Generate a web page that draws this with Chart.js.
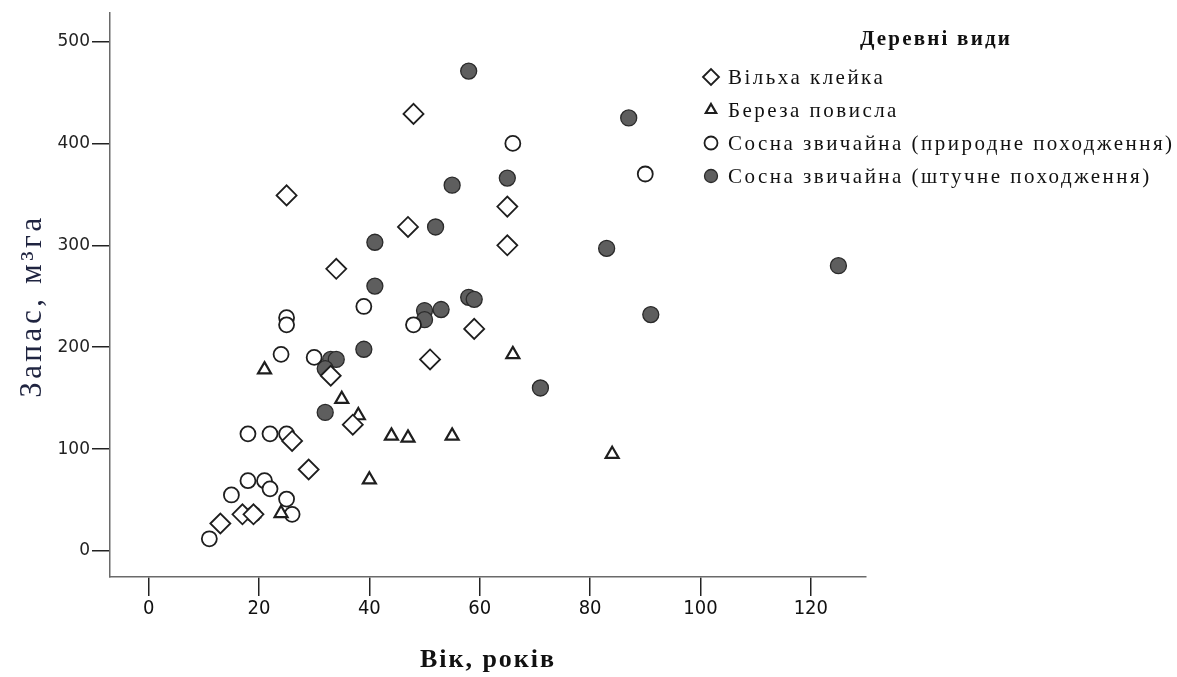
<!DOCTYPE html>
<html lang="uk">
<head>
<meta charset="utf-8">
<title>Запас за віком</title>
<script src="https://cdn.jsdelivr.net/npm/chart.js@4.4.1/dist/chart.umd.min.js"></script>
<style>
  html, body { margin: 0; padding: 0; background: #fff; }
  #chart { display: block; }
</style>
</head>
<body>
<canvas id="chart" width="1177" height="677"></canvas>
<script>
// --- DATA ---
const legendTitle = 'Деревні види';
const xAxisTitle = 'Вік, років';
const yAxisTitle = 'Запас, м³га';
const speciesNames = [
    'Вільха клейка',
    'Береза повисла',
    'Сосна звичайна (природне походження)',
    'Сосна звичайна (штучне походження)'
];

// Вільха клейка
const alderAge   = [48, 25, 34, 47, 65, 65, 59, 51, 33, 37, 26, 29, 17, 13, 19];
const alderStock = [429, 349, 277, 318, 338, 300, 218, 188, 172, 124, 108, 80, 36, 27, 36];

// Береза повисла
const birchAge   = [21, 35, 38, 44, 47, 55, 40, 66, 84, 19, 24];
const birchStock = [178, 149, 133, 113, 111, 113, 70, 193, 95, 37, 37];

// Сосна звичайна (природне походження)
const pineNatAge   = [66, 90, 25, 25, 39, 48, 24, 30, 18, 22, 25, 18, 21, 22, 15, 25, 26, 11, 19];
const pineNatStock = [400, 370, 229, 222, 240, 222, 193, 190, 115, 115, 115, 69, 69, 61, 55, 51, 36, 12, 36];

// Сосна звичайна (штучне походження)
const pineArtAge   = [58, 87, 55, 65, 41, 52, 83, 125, 41, 58, 59, 50, 50, 53, 91, 33, 34, 32, 39, 32, 71];
const pineArtStock = [471, 425, 359, 366, 303, 318, 297, 280, 260, 249, 247, 236, 227, 237, 232, 188, 188, 179, 198, 136, 160];

const xTickValues = [0, 20, 40, 60, 80, 100, 120];
const yTickValues = [0, 100, 200, 300, 400, 500];

function toPoints(xs, ys) {
    return xs.map(function (x, i) { return { x: x, y: ys[i] }; });
}

// letter spacing so that text spans roughly the given width (original uses wide spacing)
function spreadTo(ctx, text, width) {
    if (!('letterSpacing' in ctx)) return;
    ctx.letterSpacing = '0px';
    const s = (width - ctx.measureText(text).width) / (text.length - 1);
    ctx.letterSpacing = Math.max(0, s).toFixed(2) + 'px';
}

// --- LEGEND + AXIS TITLES ---
const speciesLegend = {
    id: 'speciesLegend',
    afterDraw: function (chart, args, opts) {
        const ctx = chart.ctx;
        const area = chart.chartArea;
        ctx.save();
        ctx.fillStyle = '#111';
        ctx.textBaseline = 'middle';

        // axis titles
        ctx.textAlign = 'center';
        ctx.font = 'bold 26px "Liberation Serif", serif';
        spreadTo(ctx, xAxisTitle, 134);
        ctx.fillText(xAxisTitle, (area.left + area.right) / 2, 660);

        ctx.save();
        ctx.translate(33, 306);
        ctx.rotate(-Math.PI / 2);
        ctx.fillStyle = '#1f2440';
        ctx.font = '31px "Liberation Serif", serif';
        spreadTo(ctx, yAxisTitle, 180);
        ctx.fillText(yAxisTitle, 0, 0);
        ctx.restore();

        // legend title
        ctx.font = 'bold 21px "Liberation Serif", serif';
        spreadTo(ctx, legendTitle, 150);
        ctx.fillText(legendTitle, opts.titleX, opts.titleY);

        // legend items
        ctx.font = '21px "Liberation Serif", serif';
        ctx.textAlign = 'left';
        spreadTo(ctx, speciesNames[2], opts.longestWidth);

        chart.data.datasets.forEach(function (ds, i) {
            const y = opts.top + i * opts.rowGap;
            ctx.save();
            ctx.fillStyle = ds.backgroundColor;
            ctx.strokeStyle = ds.borderColor;
            ctx.lineWidth = ds.borderWidth;
            Chart.helpers.drawPoint(ctx, {
                pointStyle: ds.pointStyle,
                radius: opts.markerRadius[i],
                rotation: 0,
                borderWidth: ds.borderWidth
            }, opts.markerX, y);
            ctx.restore();
            ctx.fillText(ds.label, opts.textX, y + 1);
        });
        ctx.restore();
    }
};

const tickFontY = { family: '"DejaVu Sans", sans-serif', size: 17 };
const tickFontX = { family: '"Liberation Sans Narrow", "DejaVu Sans Condensed", "Liberation Sans", sans-serif', size: 20 };

const ctxMain = document.getElementById('chart').getContext('2d');
window.stockChart = new Chart(ctxMain, {
    type: 'scatter',
    data: {
        datasets: [
            {
                label: speciesNames[0],
                data: toPoints(alderAge, alderStock),
                pointStyle: 'rectRot',
                pointRadius: 10,
                backgroundColor: '#ffffff',
                borderColor: '#1e1e1e',
                borderWidth: 1.8
            },
            {
                label: speciesNames[1],
                data: toPoints(birchAge, birchStock),
                pointStyle: 'triangle',
                pointRadius: 7.5,
                backgroundColor: '#ffffff',
                borderColor: '#1e1e1e',
                borderWidth: 2.2
            },
            {
                label: speciesNames[2],
                data: toPoints(pineNatAge, pineNatStock),
                pointStyle: 'circle',
                pointRadius: 7.5,
                backgroundColor: '#ffffff',
                borderColor: '#1e1e1e',
                borderWidth: 1.8
            },
            {
                label: speciesNames[3],
                data: toPoints(pineArtAge, pineArtStock),
                pointStyle: 'circle',
                pointRadius: 8,
                backgroundColor: '#5e5e5e',
                borderColor: '#2a2a2a',
                borderWidth: 1.3
            }
        ]
    },
    options: {
        responsive: false,
        animation: false,
        devicePixelRatio: 1,
        layout: { padding: { top: 13, right: 311, left: 0, bottom: 0 } },
        plugins: {
            legend: { display: false },
            tooltip: { enabled: false },
            speciesLegend: {
                titleX: 936,
                titleY: 40,
                markerX: 711,
                textX: 728,
                top: 77,
                rowGap: 33,
                longestWidth: 444,
                markerRadius: [8, 6, 6.5, 6.5]
            }
        },
        scales: {
            x: {
                type: 'linear',
                min: -7,
                max: 130,
                afterBuildTicks: function (scale) {
                    scale.ticks = xTickValues.map(function (v) { return { value: v }; });
                },
                afterFit: function (scale) { scale.height = 100; },
                grid: { drawOnChartArea: false, drawTicks: true, tickLength: 19, color: '#222', lineWidth: 1.5 },
                border: { display: true, color: '#6a6a6a', width: 1.5 },
                ticks: { font: tickFontX, color: '#111', padding: 1, maxRotation: 0 },
                title: { display: false }
            },
            y: {
                type: 'linear',
                min: -25.5,
                max: 528,
                afterBuildTicks: function (scale) {
                    scale.ticks = yTickValues.map(function (v) { return { value: v }; });
                },
                afterFit: function (scale) { scale.width = 110; },
                grid: { drawOnChartArea: false, drawTicks: true, tickLength: 18, color: '#222', lineWidth: 1.5 },
                border: { display: true, color: '#6a6a6a', width: 1.5 },
                ticks: { font: tickFontY, color: '#222', padding: 2 },
                title: { display: false }
            }
        }
    },
    plugins: [speciesLegend]
});
</script>
</body>
</html>
